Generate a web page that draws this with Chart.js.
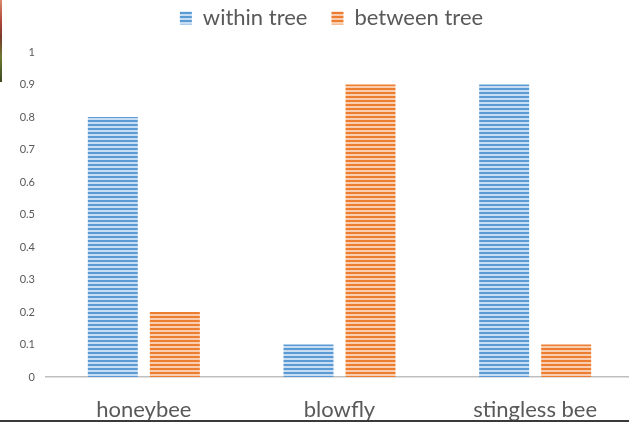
<!DOCTYPE html>
<html>
<head>
<meta charset="utf-8">
<script src="https://cdn.jsdelivr.net/npm/chart.js@4"></script>
<style>
  html, body { margin: 0; padding: 0; background: #fff; }
  #wrap { position: relative; width: 629px; height: 424px; overflow: hidden; }
  #edge { position: absolute; left: 0; top: 0; width: 2px; height: 82px;
          background: linear-gradient(#d98a6a, #b04a3a 25%, #7a3a2a 45%, #6d7a30 70%, #3a4a20); }
  #rule { position: absolute; left: 0; top: 420px; width: 629px; height: 2px; background: #3a3a3a; }
</style>
</head>
<body>
<div id="wrap">
  <canvas id="c" width="633" height="424"></canvas>
  <div id="edge"></div>
  <div id="rule"></div>
</div>
<script>
const categories = ['honeybee', 'blowfly', 'stingless bee'];
const withinTree = [0.8, 0.1, 0.9];
const betweenTree = [0.2, 0.9, 0.1];
const seriesNames = ['within tree', 'between tree'];

// Horizontal pin-stripe fill used for the bars and legend swatches
function stripes(dark, light) {
  const t = document.createElement('canvas');
  t.width = 4; t.height = 4;
  const g = t.getContext('2d');
  g.fillStyle = light; g.fillRect(0, 0, 4, 4);
  g.fillStyle = dark; g.fillRect(0, 0, 4, 2);
  return g.createPattern(t, 'repeat');
}
const ctx = document.getElementById('c').getContext('2d');
const bluePat = stripes('#5b9bd5', '#c9ddf2');
const orangePat = stripes('#ed7d31', '#f9cdaf');

// Fixed legend block height (so the plot starts below it) and a small
// rightward offset of the legend row
const legendTweak = {
  id: 'legendTweak',
  afterInit(chart) {
    const lg = chart.legend;
    const fit = lg.fit.bind(lg);
    lg.fit = function () { fit(); this.height = 69; };
    const draw = lg.draw.bind(lg);
    lg.draw = function () {
      chart.ctx.save();
      chart.ctx.translate(15, 0);
      draw();
      chart.ctx.restore();
    };
  }
};

new Chart(ctx, {
  type: 'bar',
  data: {
    labels: categories,
    datasets: [
      { label: seriesNames[0], data: withinTree, backgroundColor: bluePat, borderWidth: 0 },
      { label: seriesNames[1], data: betweenTree, backgroundColor: orangePat, borderWidth: 0 }
    ]
  },
  options: {
    responsive: false,
    animation: false,
    layout: { padding: { top: -17, left: 0, right: 0, bottom: 0 } },
    datasets: { bar: { categoryPercentage: 0.634, barPercentage: 0.806 } },
    plugins: {
      tooltip: { enabled: false },
      legend: {
        position: 'top',
        labels: {
          boxWidth: 12, boxHeight: 13, padding: 24,
          color: '#595959',
          font: { family: 'Lato', size: 22 }
        }
      }
    },
    scales: {
      x: {
        grid: { display: true, color: 'rgba(0,0,0,0)', drawTicks: false },
        border: { display: true, color: '#bfbfbf', width: 1.5 },
        ticks: { color: '#595959', font: { family: 'Lato', size: 22 }, padding: 20, maxRotation: 0 },
        afterFit(s) { s.height = 47; }
      },
      y: {
        min: 0, max: 1,
        grid: { display: false },
        border: { display: false },
        ticks: {
          stepSize: 0.1, color: '#595959', font: { family: 'Lato', size: 11 }, padding: 3,
          callback: v => String(Number(v.toFixed(1)))
        },
        afterFit(s) { s.width = 46; }
      }
    }
  },
  plugins: [legendTweak]
});
</script>
</body>
</html>
